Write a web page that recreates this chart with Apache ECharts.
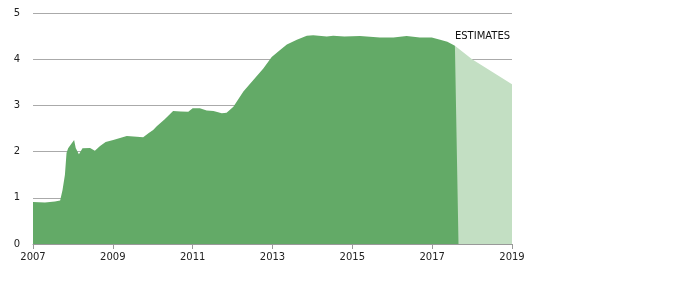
<!DOCTYPE html>
<html>
<head>
<meta charset="utf-8">
<script src="https://cdn.jsdelivr.net/npm/echarts@6/dist/echarts.min.js"></script>
<style>html,body{margin:0;padding:0;background:#fff}#c{width:676px;height:291px}</style>
</head>
<body>
<div id="c"></div>
<script>
// Actual values (year as decimal, value)
const actualYears = [2007.0, 2007.3, 2007.55, 2007.68, 2007.74, 2007.8, 2007.84, 2007.88, 2008.03, 2008.07, 2008.15, 2008.24, 2008.43, 2008.55, 2008.68, 2008.82, 2009.01, 2009.35, 2009.6, 2009.76, 2009.9, 2010.01, 2010.1, 2010.3, 2010.51, 2010.7, 2010.89, 2010.93, 2011.0, 2011.18, 2011.35, 2011.52, 2011.73, 2011.85, 2012.02, 2012.27, 2012.52, 2012.77, 2012.98, 2013.19, 2013.36, 2013.61, 2013.86, 2014.02, 2014.36, 2014.52, 2014.8, 2015.19, 2015.69, 2016.03, 2016.36, 2016.69, 2016.99, 2017.2, 2017.38, 2017.57, 2017.66];
const actualValues = [0.91, 0.90, 0.92, 0.94, 1.17, 1.5, 1.97, 2.07, 2.25, 2.08, 1.94, 2.07, 2.08, 2.02, 2.12, 2.21, 2.25, 2.34, 2.32, 2.31, 2.4, 2.47, 2.55, 2.7, 2.88, 2.87, 2.86, 2.84, 2.94, 2.94, 2.89, 2.88, 2.83, 2.84, 2.97, 3.30, 3.55, 3.80, 4.05, 4.20, 4.32, 4.42, 4.51, 4.52, 4.49, 4.51, 4.49, 4.50, 4.47, 4.47, 4.50, 4.47, 4.47, 4.42, 4.38, 4.29, 0];
// Estimates
const estimateYears = [2017.57, 2018.0, 2019.0];
const estimateValues = [4.29, 4.0, 3.46];
const estimateLabel = 'ESTIMATES';
const xTicks = [2007, 2009, 2011, 2013, 2015, 2017, 2019];
const yTicks = [0, 1, 2, 3, 4, 5];

const pair = (xs, ys) => xs.map((x, i) => [x, ys[i]]);
const chart = echarts.init(document.getElementById('c'), null, {renderer: 'canvas'});
const font = 'DejaVu Sans';
chart.setOption({
  animation: false,
  grid: {left: 33, right: 164, top: 13, bottom: 47, containLabel: false},
  xAxis: {
    type: 'value', min: xTicks[0], max: xTicks[xTicks.length - 1], interval: 2,
    axisLine: {show: true, lineStyle: {color: '#999', width: 1}},
    axisTick: {show: true, length: 5, lineStyle: {color: '#999'}},
    axisLabel: {color: '#222', fontSize: 10, fontFamily: font, margin: 8, formatter: v => String(v)},
    splitLine: {show: false}
  },
  yAxis: {
    type: 'value', min: yTicks[0], max: yTicks[yTicks.length - 1], interval: 1,
    axisLine: {show: false}, axisTick: {show: false},
    axisLabel: {color: '#222', fontSize: 10, fontFamily: font, margin: 13},
    splitLine: {show: true, lineStyle: {color: '#aaa', width: 1}}
  },
  series: [
    {
      type: 'line', data: pair(estimateYears, estimateValues), symbol: 'none',
      lineStyle: {width: 0}, areaStyle: {color: '#c3dfc3', opacity: 1},
      markPoint: {
        symbol: 'circle', symbolSize: 0,
        data: [{coord: [estimateYears[0], estimateValues[0]], value: estimateLabel}],
        label: {show: true, formatter: estimateLabel, position: 'top', align: 'left', distance: 4,
                color: '#111', fontSize: 10, fontFamily: font}
      }
    },
    {
      type: 'line', data: pair(actualYears, actualValues), symbol: 'none',
      lineStyle: {width: 0}, areaStyle: {color: '#63aa67', opacity: 1}
    }
  ]
});
</script>
</body>
</html>
